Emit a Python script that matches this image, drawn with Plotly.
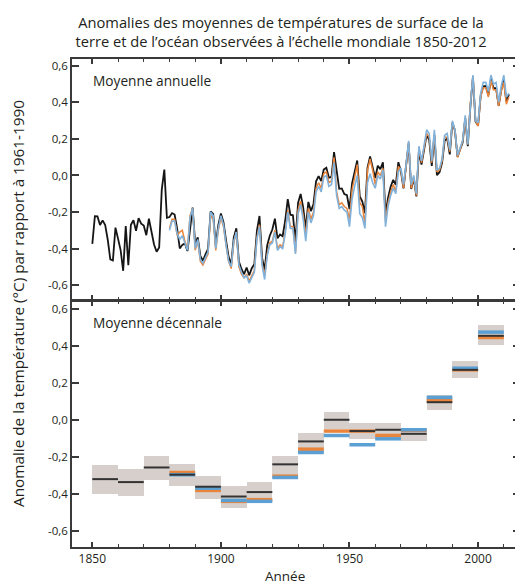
import plotly.graph_objects as go

# ---------------- data ----------------
years_black = list(range(1850, 2013))
black_annual = [
    -0.375, -0.223, -0.224, -0.271, -0.246, -0.271, -0.352, -0.460, -0.466, -0.286,
    -0.346, -0.409, -0.522, -0.277, -0.491, -0.270, -0.245, -0.303, -0.234, -0.264,
    -0.274, -0.327, -0.237, -0.312, -0.378, -0.418, -0.394, -0.079, 0.032, -0.232,
    -0.228, -0.206, -0.214, -0.292, -0.400, -0.380, -0.372, -0.414, -0.277, -0.176,
    -0.374, -0.339, -0.440, -0.467, -0.432, -0.402, -0.197, -0.210, -0.383, -0.271,
    -0.208, -0.256, -0.356, -0.446, -0.487, -0.341, -0.289, -0.471, -0.512, -0.541,
    -0.504, -0.547, -0.508, -0.486, -0.303, -0.222, -0.450, -0.518, -0.383, -0.330,
    -0.296, -0.237, -0.344, -0.323, -0.333, -0.248, -0.130, -0.215, -0.218, -0.361,
    -0.150, -0.101, -0.176, -0.294, -0.145, -0.195, -0.156, -0.032, -0.004, -0.031,
    0.032, 0.042, -0.012, -0.008, 0.128, 0.017, -0.073, -0.071, -0.102, -0.108,
    -0.184, -0.044, 0.024, 0.082, -0.115, -0.143, -0.206, 0.041, 0.104, 0.040,
    -0.014, 0.053, 0.035, 0.072, -0.211, -0.122, -0.062, -0.024, -0.052, 0.073,
    0.022, -0.071, 0.039, 0.176, -0.074, -0.015, -0.115, 0.134, 0.060, 0.132,
    0.223, 0.193, 0.053, 0.221, 0.002, 0.018, 0.069, 0.191, 0.202, 0.115,
    0.289, 0.246, 0.102, 0.143, 0.180, 0.314, 0.160, 0.378, 0.541, 0.296,
    0.273, 0.436, 0.488, 0.490, 0.440, 0.528, 0.479, 0.478, 0.382, 0.468,
    0.524, 0.406, 0.444,
]

years_other = list(range(1880, 2013))
orange_annual = [
    -0.29, -0.24, -0.24, -0.33, -0.31, -0.30, -0.36, -0.40, -0.22, -0.18,
    -0.41, -0.36, -0.47, -0.49, -0.46, -0.43, -0.22, -0.24, -0.41, -0.30,
    -0.23, -0.28, -0.38, -0.47, -0.51, -0.37, -0.31, -0.50, -0.54, -0.56,
    -0.54, -0.58, -0.55, -0.52, -0.34, -0.27, -0.48, -0.55, -0.43, -0.37,
    -0.36, -0.30, -0.40, -0.38, -0.39, -0.31, -0.19, -0.28, -0.28, -0.42,
    -0.19, -0.14, -0.22, -0.33, -0.18, -0.24, -0.20, -0.07, -0.04, -0.07,
    0.01, 0.02, -0.04, -0.03, 0.10, -0.09, -0.16, -0.15, -0.17, -0.18,
    -0.24, -0.08, -0.01, 0.06, -0.15, -0.17, -0.27, 0.03, 0.09, 0.03,
    -0.05, 0.02, 0.00, 0.04, -0.25, -0.15, -0.09, -0.05, -0.09, 0.05,
    0.03, -0.07, 0.05, 0.18, -0.07, -0.01, -0.11, 0.15, 0.07, 0.14,
    0.23, 0.21, 0.07, 0.23, 0.02, 0.03, 0.08, 0.21, 0.21, 0.13,
    0.29, 0.25, 0.10, 0.14, 0.19, 0.31, 0.17, 0.39, 0.54, 0.30,
    0.27, 0.43, 0.48, 0.48, 0.43, 0.52, 0.47, 0.47, 0.38, 0.46,
    0.51, 0.39, 0.43,
]
blue_annual = [
    -0.30, -0.25, -0.25, -0.32, -0.35, -0.33, -0.37, -0.41, -0.23, -0.18,
    -0.40, -0.35, -0.46, -0.48, -0.45, -0.42, -0.20, -0.22, -0.40, -0.29,
    -0.22, -0.27, -0.38, -0.47, -0.50, -0.36, -0.31, -0.49, -0.53, -0.56,
    -0.55, -0.59, -0.56, -0.53, -0.35, -0.28, -0.49, -0.57, -0.44, -0.38,
    -0.37, -0.31, -0.41, -0.39, -0.40, -0.32, -0.20, -0.29, -0.29, -0.43,
    -0.21, -0.16, -0.24, -0.36, -0.20, -0.26, -0.22, -0.09, -0.06, -0.09,
    -0.01, 0.00, -0.06, -0.05, 0.07, -0.11, -0.18, -0.17, -0.19, -0.20,
    -0.28, -0.13, -0.06, 0.00, -0.21, -0.23, -0.29, -0.04, 0.01, -0.04,
    -0.07, 0.00, -0.02, 0.03, -0.28, -0.17, -0.11, -0.07, -0.10, 0.02,
    0.04, -0.05, 0.06, 0.19, -0.05, 0.00, -0.10, 0.16, 0.08, 0.16,
    0.25, 0.23, 0.08, 0.25, 0.03, 0.04, 0.09, 0.22, 0.23, 0.14,
    0.30, 0.25, 0.11, 0.15, 0.19, 0.33, 0.17, 0.38, 0.55, 0.30,
    0.29, 0.45, 0.51, 0.51, 0.46, 0.55, 0.50, 0.51, 0.40, 0.49,
    0.55, 0.43, 0.45,
]

decades_black = list(range(1850, 2010, 10))
black_decadal = [-0.321, -0.337, -0.258, -0.297, -0.362, -0.415, -0.391, -0.241,
                 -0.117, 0.000, -0.061, -0.054, -0.076, 0.095, 0.270, 0.454]
unc_low = [-0.402, -0.411, -0.324, -0.360, -0.429, -0.477, -0.450, -0.297,
           -0.180, -0.050, -0.104, -0.110, -0.114, 0.054, 0.223, 0.405]
unc_high = [-0.247, -0.266, -0.198, -0.238, -0.303, -0.360, -0.337, -0.195,
            -0.072, 0.040, -0.018, -0.020, -0.047, 0.134, 0.319, 0.510]

decades_other = list(range(1880, 2010, 10))
orange_decadal = [-0.285, -0.382, -0.441, -0.432, -0.305, -0.159, -0.061,
                  -0.061, -0.085, -0.057, 0.105, 0.270, 0.445]
blue_decadal = [-0.297, -0.370, -0.436, -0.441, -0.312, -0.177, -0.085,
                -0.135, -0.103, -0.054, 0.121, 0.279, 0.474]

y_ticks = [-0.6, -0.4, -0.2, 0.0, 0.2, 0.4, 0.6]
y_tick_text = ["-0,6", "-0,4", "-0,2", "0,0", "0,2", "0,4", "0,6"]
x_ticks = [1850, 1900, 1950, 2000]

BLACK = "#151515"
ORANGE = "#e9843a"
BLUE = "#80b2dc"
BLUE_DEC = "#5b9fd3"
BOX = "#d6cfcb"
AX = "#3a3a3a"
TXT = "#231f20"
FONT = "Open Sans"

# page body adds 8 px around the figure
W, H = 515, 579
PL, PT = 64, 51          # plot area left / top inside the figure
PW, PH = 448, 488        # plot area size


def segments(starts, vals):
    xs, ys = [], []
    for s, v in zip(starts, vals):
        xs += [s, s + 10, None]
        ys += [v, v, None]
    return xs, ys


fig = go.Figure()

# annual panel
fig.add_trace(go.Scatter(x=years_black, y=black_annual, mode="lines",
                         line=dict(color=BLACK, width=1.8), xaxis="x", yaxis="y"))
fig.add_trace(go.Scatter(x=years_other, y=orange_annual, mode="lines",
                         line=dict(color=ORANGE, width=1.5), xaxis="x", yaxis="y"))
fig.add_trace(go.Scatter(x=years_other, y=blue_annual, mode="lines",
                         line=dict(color=BLUE, width=1.6), xaxis="x", yaxis="y"))

# decadal panel
fig.add_trace(go.Bar(x=[s + 5 for s in decades_black],
                     y=[h - l for h, l in zip(unc_high, unc_low)],
                     base=unc_low, width=[10] * len(decades_black),
                     marker=dict(color=BOX, line=dict(width=0)),
                     xaxis="x2", yaxis="y2"))
xo, yo = segments(decades_other, orange_decadal)
fig.add_trace(go.Scatter(x=xo, y=yo, mode="lines", line=dict(color=ORANGE, width=3.5),
                         xaxis="x2", yaxis="y2"))
xb, yb = segments(decades_other, blue_decadal)
fig.add_trace(go.Scatter(x=xb, y=yb, mode="lines", line=dict(color=BLUE_DEC, width=3.5),
                         xaxis="x2", yaxis="y2"))
xk, yk = segments(decades_black, black_decadal)
fig.add_trace(go.Scatter(x=xk, y=yk, mode="lines", line=dict(color="#333333", width=2),
                         xaxis="x2", yaxis="y2"))

xaxis_common = dict(
    range=[1842.1, 2016.3], tickvals=x_ticks, ticks="inside", ticklen=5,
    tickwidth=1.5, tickcolor=AX, showline=True, linecolor=AX, linewidth=1.6,
    mirror="allticks", showgrid=False, zeroline=False,
    minor=dict(dtick=10, tick0=1850, ticks="inside", ticklen=3.5, tickwidth=1.2,
               tickcolor=AX, showgrid=False),
    tickfont=dict(family=FONT, size=12, color=TXT),
)
yaxis_common = dict(
    tickvals=y_ticks, ticktext=y_tick_text, ticks="inside", ticklen=7,
    tickwidth=1.5, tickcolor=AX, showline=True, linecolor=AX, linewidth=1.6,
    mirror="allticks", showgrid=False, zeroline=False,
    tickfont=dict(family=FONT, size=11.5, color=TXT),
)

fig.update_layout(
    width=W, height=H,
    margin=dict(l=PL, r=W - PL - PW, t=PT, b=H - PT - PH, autoexpand=False),
    paper_bgcolor="white", plot_bgcolor="white",
    showlegend=False, bargap=0,
    font=dict(family=FONT, color=TXT),
    xaxis=dict(xaxis_common, anchor="y", showticklabels=False),
    yaxis=dict(yaxis_common, domain=[0.506, 1.0], range=[-0.6825, 0.638], anchor="x"),
    xaxis2=dict(xaxis_common, anchor="y2", matches="x"),
    yaxis2=dict(yaxis_common, domain=[0.0, 0.504], range=[-0.688, 0.642], anchor="x2"),
    title=dict(
        text="Anomalies des moyennes de températures de surface de la<br>"
             "terre et de l’océan observées à l’échelle mondiale 1850-2012",
        x=(281 - 8) / W, xanchor="center", xref="container",
        y=1 - (28 - 8) / H, yanchor="middle", yref="container",
        font=dict(family=FONT, size=14.7, color=TXT),
    ),
)

fig.add_annotation(text="Moyenne annuelle", xref="paper", yref="paper",
                   x=19 / PW, y=1 - 21 / PH, xanchor="left", yanchor="middle",
                   showarrow=False, font=dict(family=FONT, size=13.7, color=TXT))
fig.add_annotation(text="Moyenne décennale", xref="paper", yref="paper",
                   x=19 / PW, y=(547 - 322) / PH, xanchor="left", yanchor="middle",
                   showarrow=False, font=dict(family=FONT, size=13.7, color=TXT))
fig.add_annotation(text="Anomalie de la température (°C) par rapport à 1961-1990",
                   xref="paper", yref="paper", x=(18 - 72) / PW,
                   y=(547 - 304) / PH, xanchor="center", yanchor="middle",
                   textangle=-90, showarrow=False,
                   font=dict(family=FONT, size=15.3, color=TXT))
fig.add_annotation(text="Année", xref="paper", yref="paper",
                   x=(285 - 72) / PW, y=(547 - 576) / PH,
                   xanchor="center", yanchor="middle", showarrow=False,
                   font=dict(family=FONT, size=13.5, color=TXT))

fig.write_html("out.html")
